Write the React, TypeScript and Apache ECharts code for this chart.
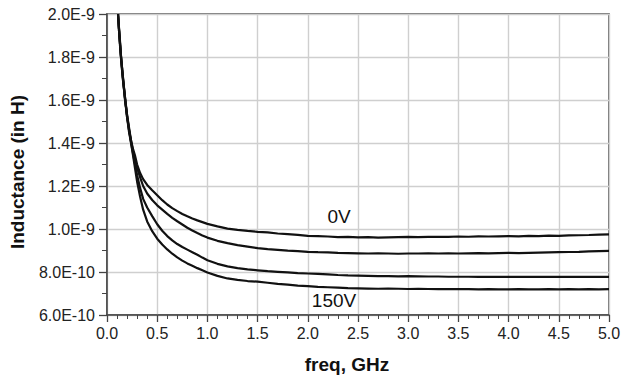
import React, { useEffect, useRef } from "react";
import * as echarts from "echarts";

// frequency (GHz)
const freq = [
  0.11, 0.12, 0.13, 0.14, 0.15, 0.16, 0.18, 0.2, 0.22, 0.24, 0.26, 0.28, 0.3, 0.33, 0.36, 0.4, 0.45, 0.5,
  0.55, 0.6, 0.65, 0.7, 0.75, 0.8, 0.85, 0.9, 0.95, 1.0, 1.1, 1.2, 1.3, 1.4, 1.5, 1.6, 1.7, 1.8, 1.9, 2.0,
  2.1, 2.2, 2.3, 2.4, 2.5, 2.6, 2.7, 2.8, 2.9, 3.0, 3.1, 3.2, 3.3, 3.4, 3.5, 3.6, 3.7, 3.8, 3.9, 4.0,
  4.1, 4.2, 4.3, 4.4, 4.5, 4.6, 4.7, 4.8, 4.9, 5.0,
];

// inductance in nH (x 1E-9 H)
const L0V = [
  2.0, 1.93, 1.87, 1.8, 1.75, 1.7, 1.61, 1.53, 1.47, 1.41, 1.37, 1.34, 1.3, 1.26, 1.232, 1.205, 1.18, 1.157,
  1.134, 1.114, 1.097, 1.083, 1.07, 1.059, 1.049, 1.04, 1.032, 1.024, 1.012, 1.002, 0.996, 0.991, 0.987,
  0.984, 0.979, 0.976, 0.973, 0.968, 0.967, 0.965, 0.962, 0.963, 0.961, 0.962, 0.96, 0.961, 0.962, 0.963,
  0.962, 0.963, 0.964, 0.963, 0.965, 0.964, 0.966, 0.965, 0.966, 0.967, 0.966, 0.968, 0.967, 0.969, 0.968,
  0.97, 0.971, 0.972, 0.974, 0.975,
];
const L50V = [
  2.0, 1.92, 1.86, 1.8, 1.74, 1.7, 1.6, 1.53, 1.46, 1.41, 1.36, 1.32, 1.285, 1.24, 1.2, 1.165, 1.135, 1.11,
  1.09, 1.07, 1.052, 1.036, 1.021, 1.006, 0.993, 0.981, 0.97, 0.96, 0.945, 0.934, 0.925, 0.918, 0.911, 0.906,
  0.903, 0.899, 0.897, 0.894, 0.892, 0.891, 0.889, 0.888, 0.887, 0.886, 0.887, 0.886, 0.885, 0.886, 0.886,
  0.887, 0.886, 0.887, 0.886, 0.887, 0.888, 0.887, 0.888, 0.889, 0.888, 0.889, 0.89, 0.891, 0.892, 0.893,
  0.894, 0.896, 0.897, 0.898,
];
const L100V = [
  1.99, 1.93, 1.86, 1.79, 1.75, 1.69, 1.61, 1.52, 1.46, 1.4, 1.35, 1.3, 1.25, 1.19, 1.14, 1.1, 1.06, 1.022,
  0.992, 0.967, 0.947, 0.93, 0.916, 0.904, 0.892, 0.88, 0.867, 0.855, 0.838, 0.826, 0.818, 0.812, 0.808,
  0.804, 0.801, 0.798, 0.795, 0.793, 0.791, 0.789, 0.786, 0.784, 0.783, 0.782, 0.781, 0.781, 0.78, 0.781,
  0.78, 0.779, 0.779, 0.778, 0.778, 0.778, 0.777, 0.778, 0.777, 0.777, 0.778, 0.777, 0.777, 0.777, 0.777,
  0.777, 0.777, 0.777, 0.777, 0.777,
];
const L150V = [
  2.0, 1.92, 1.85, 1.8, 1.74, 1.69, 1.6, 1.52, 1.45, 1.4, 1.34, 1.28, 1.22, 1.15, 1.09, 1.035, 0.99, 0.955,
  0.928, 0.905, 0.885, 0.868, 0.853, 0.84, 0.829, 0.818, 0.808, 0.798, 0.782, 0.77, 0.763, 0.758, 0.755,
  0.75, 0.745, 0.741, 0.737, 0.734, 0.731, 0.729, 0.727, 0.725, 0.724, 0.723, 0.722, 0.723, 0.722, 0.721,
  0.722, 0.721, 0.72, 0.721, 0.72, 0.72, 0.719, 0.72, 0.719, 0.719, 0.72, 0.719, 0.719, 0.72, 0.719, 0.72,
  0.719, 0.72, 0.719, 0.72,
];

const seriesList = [L0V, L50V, L100V, L150V];
const xTitle = "freq, GHz";
const yTitle = "Inductance (in H)";

function fmtE(vNano: number): string {
  const v = vNano * 1e-9;
  const e = Math.floor(Math.log10(v) + 1e-9);
  const m = v / Math.pow(10, e);
  return `${m.toFixed(1)}E${e}`;
}

export default function App() {
  const ref = useRef<HTMLDivElement>(null);
  useEffect(() => {
    if (!ref.current) return;
    const chart = echarts.init(ref.current, undefined, { renderer: "svg" });
    const font = "'Liberation Sans', Arial, Helvetica, sans-serif";
    chart.setOption({
      animation: false,
      backgroundColor: "#ffffff",
      grid: {
        left: 107,
        right: 13,
        top: 14,
        bottom: 66,
        containLabel: false,
        outerBoundsMode: "none",
        show: true,
        borderColor: "#444",
        borderWidth: 1.5,
        backgroundColor: "transparent",
      },
      xAxis: {
        type: "value",
        min: 0,
        max: 5,
        interval: 0.5,
        axisLine: { show: true, lineStyle: { color: "#444", width: 1.5 } },
        axisTick: { show: true, inside: false, length: 7, lineStyle: { color: "#444", width: 1.3 } },
        minorTick: { show: true, splitNumber: 5, length: 4, lineStyle: { color: "#444", width: 1 } },
        splitLine: { show: true, lineStyle: { color: "#cfcfcf", width: 1.4 } },
        axisLabel: {
          color: "#222",
          fontSize: 16,
          fontFamily: font,
          margin: 10,
          hideOverlap: false,
          showMaxLabel: true,
          formatter: (v: number) => v.toFixed(1),
        },
      },
      yAxis: {
        type: "value",
        min: 0.6,
        max: 2.0,
        interval: 0.2,
        axisLine: { show: true, lineStyle: { color: "#444", width: 1.5 } },
        axisTick: { show: true, inside: false, length: 8, lineStyle: { color: "#444", width: 1.3 } },
        minorTick: { show: true, splitNumber: 2, length: 5, lineStyle: { color: "#444", width: 1 } },
        splitLine: { show: true, lineStyle: { color: "#cfcfcf", width: 1.4 } },
        axisLabel: {
          color: "#222",
          fontSize: 16,
          fontFamily: font,
          margin: 12,
          formatter: (v: number) => fmtE(v),
        },
      },
      series: seriesList.map((vals) => ({
        type: "line",
        data: freq.map((f, i) => [f, vals[i]]),
        showSymbol: false,
        symbol: "none",
        lineStyle: { color: "#111", width: 2.2 },
        clip: true,
      })),
      graphic: [
        {
          type: "text",
          x: 17,
          y: 172,
          rotation: Math.PI / 2,
          style: {
            text: yTitle,
            font: `bold 19px ${font}`,
            fill: "#111",
            align: "center",
            verticalAlign: "middle",
          },
        },
        {
          type: "text",
          x: 347,
          y: 364,
          style: {
            text: xTitle,
            font: `bold 19px ${font}`,
            fill: "#111",
            align: "center",
            verticalAlign: "middle",
          },
        },
        {
          type: "text",
          x: 339,
          y: 216,
          style: { text: "0V", font: `19px ${font}`, fill: "#111", align: "center", verticalAlign: "middle" },
        },
        {
          type: "text",
          x: 334,
          y: 300,
          style: { text: "150V", font: `19px ${font}`, fill: "#111", align: "center", verticalAlign: "middle" },
        },
      ],
    });
    return () => chart.dispose();
  }, []);
  return (
    <div
      ref={ref}
      style={{ position: "fixed", left: 0, top: 0, width: 622, height: 381, background: "#fff" }}
    />
  );
}
